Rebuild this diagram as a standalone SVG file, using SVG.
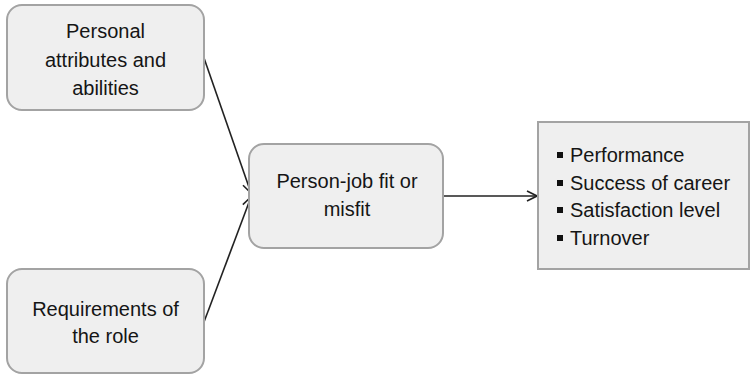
<svg xmlns="http://www.w3.org/2000/svg" width="750" height="375" viewBox="0 0 750 375">
  <style>
    .box { fill: #efefef; stroke: #a3a3a3; stroke-width: 2; }
    .label { font-family: "Liberation Sans", Arial, sans-serif; font-size: 20px; fill: #151515; text-anchor: middle; }
    .item { font-family: "Liberation Sans", Arial, sans-serif; font-size: 20px; fill: #151515; }
    .bullet { fill: #111; }
    .conn { stroke: #222; stroke-width: 1.6; fill: none; marker-end: url(#open-arrow); }
  </style>
  <defs>
    <marker id="open-arrow" viewBox="0 0 12 12" refX="11" refY="6" markerWidth="12" markerHeight="12" markerUnits="userSpaceOnUse" orient="auto">
      <path d="M1,1 L11,6 L1,11" fill="none" stroke="#222" stroke-width="1.6"/>
    </marker>
  </defs>
  <rect width="750" height="375" fill="#ffffff"/>

  <g id="connectors">
    <line class="conn" x1="204" y1="58" x2="251" y2="193"/>
    <line class="conn" x1="204" y1="322" x2="251" y2="197"/>
    <line class="conn" x1="443" y1="196" x2="537" y2="196"/>
  </g>

  <g id="personal-attributes">
    <rect class="box" x="7" y="5" width="197" height="105" rx="15"/>
    <text class="label" x="105.5" y="38">Personal</text>
    <text class="label" x="105.5" y="67">attributes and</text>
    <text class="label" x="105.5" y="95">abilities</text>
  </g>

  <g id="role-requirements">
    <rect class="box" x="7" y="269" width="197" height="104" rx="15"/>
    <text class="label" x="105.5" y="316">Requirements of</text>
    <text class="label" x="105.5" y="343">the role</text>
  </g>

  <g id="person-job-fit">
    <rect class="box" x="249" y="144" width="194" height="104" rx="15"/>
    <text class="label" x="347" y="188">Person-job fit or</text>
    <text class="label" x="347" y="216">misfit</text>
  </g>

  <g id="outcomes">
    <rect class="box" x="538" y="122" width="211" height="147"/>
    <rect class="bullet" x="557" y="152" width="6" height="6"/>
    <text class="item" x="570" y="162">Performance</text>
    <rect class="bullet" x="557" y="180" width="6" height="6"/>
    <text class="item" x="570" y="190">Success of career</text>
    <rect class="bullet" x="557" y="207" width="6" height="6"/>
    <text class="item" x="570" y="217">Satisfaction level</text>
    <rect class="bullet" x="557" y="235" width="6" height="6"/>
    <text class="item" x="570" y="245">Turnover</text>
  </g>
</svg>
